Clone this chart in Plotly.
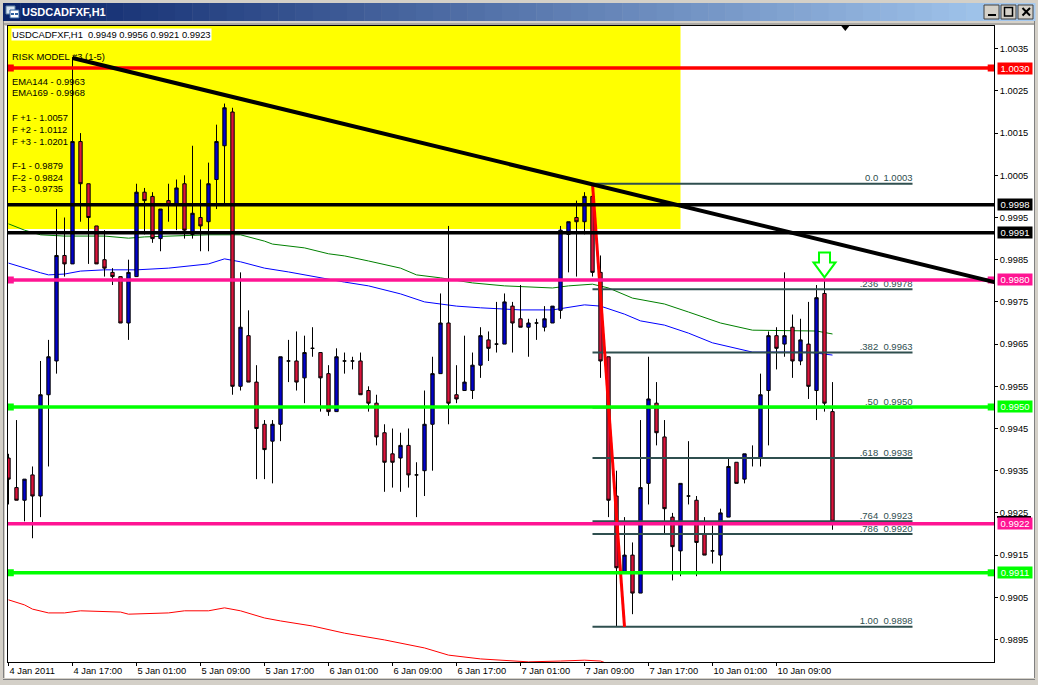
import plotly.graph_objects as go

W, H = 1038, 685

# ---------- data: prices in 1/10000 ----------
opens = [9938,9931,9928,9934,9929,9953,9961,9986,9984,10013,10003,9993,9985,9982,9981,9970,9981,10001,10000,9990,9999,9998,10003,9991,9995,9994,10004,10012,10020,9955,9967,9956,9946,9942,9946,9961,9961,9957,9964,9963,9958,9949,9961,9961,9961,9954,9951,9944,9939,9938,9941,9934,9935,9946,9958,9970,9953,9954,9954,9960,9966,9965,9965,9974,9971,9969,9970,9969,9970,9973,9991,9995,9994,10000,9982,9962,9929,9911,9915,9906,9932,9951,9943,9924,9916,9929,9928,9920,9916,9915,9924,9937,9933,9938,9938,9954,9967,9965,9969,9961,9965,9954,9977,9949]
highs = [9939,9947,9933,9936,9961,9966,9997,9995,10033,10015,10003,9993,9992,9983,9981,9985,10003,10002,10001,9997,10003,10004,10005,10012,10004,10008,10017,10022,10021,9982,9973,9960,9947,9947,9962,9966,9968,9967,9969,9963,9960,9964,9963,9962,9963,9955,9953,9946,9945,9944,9945,9937,9954,9962,9977,9993,9960,9967,9963,9969,9968,9975,9977,9975,9979,9971,9971,9974,9974,9993,9994,9999,10001,10003,9986,9962,9935,9924,9918,9947,9962,9956,9947,9925,9932,9942,9929,9924,9922,9926,9938,9937,9939,9941,9958,9968,9969,9982,9972,9971,9975,9979,9983,9956]
lows = [9927,9928,9923,9919,9924,9936,9958,9981,9984,9994,9984,9984,9981,9979,9970,9966,9981,9991,9989,9987,9994,9992,9990,9990,9987,9987,9997,9998,9953,9954,9956,9933,9933,9932,9942,9956,9954,9951,9962,9949,9948,9949,9958,9959,9953,9949,9941,9930,9931,9930,9931,9924,9929,9935,9958,9946,9951,9954,9952,9957,9961,9963,9965,9963,9969,9962,9966,9968,9970,9971,9982,9981,9991,9981,9957,9924,9898,9911,9901,9906,9927,9941,9920,9909,9910,9927,9910,9915,9913,9911,9924,9932,9932,9936,9936,9941,9959,9962,9957,9960,9952,9947,9949,9921]
closes = [9933,9928,9933,9929,9953,9962,9986,9984,10013,10003,9995,9984,9983,9981,9970,9982,10001,9999,9990,9997,9998,10002,9992,9996,9993,10003,10013,10021,9955,9969,9956,9945,9940,9946,9962,9961,9956,9963,9964,9957,9949,9962,9961,9961,9953,9951,9943,9937,9937,9941,9934,9934,9946,9958,9970,9951,9952,9956,9960,9967,9964,9965,9975,9970,9969,9970,9970,9971,9974,9992,9994,9994,10000,9982,9961,9928,9912,9915,9906,9931,9952,9944,9926,9917,9932,9929,9918,9915,9916,9925,9936,9932,9939,9938,9953,9967,9964,9967,9961,9966,9955,9976,9951,9923]

tick_bars = [0,8,16,24,32,40,48,56,64,72,80,88,96]
tick_dates = ["4 Jan 2011","4 Jan 17:00","5 Jan 01:00","5 Jan 09:00","5 Jan 17:00","6 Jan 01:00","6 Jan 09:00",
              "6 Jan 17:00","7 Jan 01:00","7 Jan 09:00","7 Jan 17:00","10 Jan 01:00","10 Jan 09:00"]
price_ticks = [1.0035,1.0025,1.0015,1.0005,0.9995,0.9985,0.9975,0.9965,0.9955,0.9945,0.9935,0.9925,0.9915,0.9905,0.9895]

# moving averages, prices in 1/100000
ema169_bars = [0,2,4,7,12,15,17,20,25,29,32,33,37,40,42,45,49,51,54,58,62,68,70,73,75,78,82,85,89,93,99,101,103]
ema169_vals = [99935,99920,99909,99906,99906,99901,99904,99906,99909,99909,99894,99887,99878,99864,99859,99847,99830,99814,99807,99795,99788,99783,99788,99792,99783,99759,99745,99726,99700,99683,99681,99681,99674]
ema144_bars = [0,2,4,5,7,9,12,16,20,25,27,29,32,35,39,42,45,49,52,56,59,64,68,72,74,77,79,82,85,88,93,100,103]
ema144_vals = [99842,99830,99819,99814,99816,99823,99826,99826,99830,99840,99852,99845,99830,99821,99807,99797,99788,99769,99750,99740,99736,99731,99731,99743,99740,99721,99705,99695,99676,99653,99631,99631,99624]
low_ma_bars = [0,2,3,5,7,9,14,15,20,22,25,27,29,32,34,38,42,47,52,55,59,62,65,69,72,74,75]
low_ma_vals = [99044,99032,99022,99013,99013,99018,99015,99010,99013,99018,99018,99025,99018,99001,98994,98982,98965,98949,98930,98913,98904,98901,98897,98899,98901,98899,98892]

level_vals = [1.00304,0.99980,0.99914,0.99802,0.99501,0.99224,0.99108]
level_cols = ["#FF0000","#000000","#000000","#FF1493","#00FF00","#FF1493","#00FF00"]
level_handles = [True,False,False,True,True,False,True]

fib_ratios = ["0.0",".236",".382",".50",".618",".764",".786","1.00"]
fib_vals = [1.0003,0.9978,0.9963,0.9950,0.9938,0.9923,0.9920,0.9898]
fib_bars = [73,113]

trend_bars = [8,123.25]
trend_vals = [1.00328,0.99797]
drop_bars = [73,77]
drop_vals = [1.0003,0.9898]
zone_bars = [-1,84]
zone_vals = [0.99923,1.0050]
arrow_bar = 102
arrow_price = 0.99808
marker_bar = 104.6

legend_lines = [("USDCADFXF,H1  0.9949 0.9956 0.9921 0.9923",34),("RISK MODEL #3 (1-5)",57),("EMA144 - 0.9963",81),("EMA169 - 0.9968",93),
                ("F +1 - 1.0057",117),("F +2 - 1.0112",129),("F +3 - 1.0201",141),("F-1 - 0.9879",165),("F-2 - 0.9824",177),("F-3 - 0.9735",189)]

FONT = "Liberation Sans"
PLOT_L, PLOT_R, PLOT_T, PLOT_B = 7.5, 994, 26, 662
XR = [(PLOT_L-8.5)/8, (PLOT_R-8.5)/8]
YR = [0.9895+(639.5-PLOT_B)/42200, 0.9895+(639.5-PLOT_T)/42200]

def px(x): return x/W
def py(y): return 1-y/H
def rect(x0,y0,x1,y1,fill,line=None,layer="below"):
    return dict(type="rect",xref="paper",yref="paper",x0=px(x0),x1=px(x1),y0=py(y0),y1=py(y1),
                fillcolor=fill,line=dict(width=1 if line else 0,color=line or fill),layer=layer)

shapes = []
# window chrome
shapes.append(rect(4,21,1034,678,"#FFFFFF"))
n = 60
c0, c1 = (10,36,106), (166,202,240)
for k in range(n):
    t = k/(n-1)
    col = "rgb(%d,%d,%d)"%tuple(round(a+(b-a)*t) for a,b in zip(c0,c1))
    shapes.append(rect(3+k*(1035-3)/n,3,3+(k+1)*(1035-3)/n+0.5,21,col))
shapes.append(rect(0,21,5,685,"#D4D0C8"))
shapes.append(rect(3,21,4,680,"#808080"))
shapes.append(rect(4,21,7,26,"#D4D0C8"))
shapes.append(rect(4,21,1034,25,"#D4D0C8"))
shapes.append(rect(3,23.5,1035,24.5,"#808080"))
shapes.append(rect(1034,21,1038,685,"#D4D0C8"))
shapes.append(rect(1034,21,1035,680,"#808080"))
shapes.append(rect(0,678,1038,685,"#D4D0C8"))
shapes.append(rect(3,679,1035,680,"#808080"))
# icon
shapes.append(rect(6,6,15,14,"#D8E4F0","#6080A0"))
shapes.append(rect(10,10,19,18,"#FFFFFF","#3060A0"))
shapes.append(rect(11,13,14,15,"#3060A0"))
shapes.append(rect(15,13,18,15,"#3060A0"))
# buttons
for x0,x1 in [(984,999),(1001,1016),(1018,1033)]:
    shapes.append(rect(x0,5,x1,19,"#D4D0C8","#404040"))
shapes.append(rect(988,14,996,16,"#000000"))
shapes.append(dict(type="rect",xref="paper",yref="paper",x0=px(1004.5),x1=px(1012.5),y0=py(7.5),y1=py(16),
                   line=dict(color="#000000",width=1.5),fillcolor="rgba(0,0,0,0)",layer="below"))
shapes.append(dict(type="path",xref="paper",yref="paper",layer="below",line=dict(color="#000000",width=2),
                   path="M %f %f L %f %f M %f %f L %f %f"%(px(1022.5),py(8),px(1030),py(15.5),px(1030),py(8),px(1022.5),py(15.5))))
# yellow zone
shapes.append(dict(type="rect",xref="x",yref="y",x0=zone_bars[0],x1=zone_bars[1],y0=zone_vals[0],y1=zone_vals[1],
                   fillcolor="#FFFF00",line=dict(width=0),layer="below"))
# hollow arrow, sized in pixels, anchored on data
shapes.append(dict(type="path",xref="x3",yref="y3",xsizemode="pixel",ysizemode="pixel",xanchor=arrow_bar,yanchor=arrow_price,
                   path="M 0 0 L -11 15 L -5.5 15 L -5.5 25 L 5.5 25 L 5.5 15 L 11 15 Z",
                   line=dict(color="#00FF00",width=2),fillcolor="#FFFFFF",layer="above"))
# chart-shift marker
shapes.append(dict(type="path",xref="x3",yref="y3",xsizemode="pixel",ysizemode="pixel",xanchor=marker_bar,yanchor=YR[1],
                   path="M -4 0 L 4 0 L 0 -5 Z",line=dict(color="#000000",width=0),fillcolor="#000000",layer="above"))
# tag sliver of the bid line
shapes.append(rect(997,516,1031,518,"#000000",layer="above"))

fig = go.Figure()

# base axes: moving averages
for bars,vals,col in [(ema169_bars,ema169_vals,"#008000"),(ema144_bars,ema144_vals,"#0000FF"),(low_ma_bars,low_ma_vals,"#FF0000")]:
    fig.add_trace(go.Scatter(x=bars,y=[v/100000 for v in vals],mode="lines",line=dict(color=col,width=1),
                             xaxis="x",yaxis="y",showlegend=False,hoverinfo="skip"))

# overlay 2: candles
fig.add_trace(go.Candlestick(x=list(range(len(opens))),
    open=[v/10000 for v in opens],high=[v/10000 for v in highs],low=[v/10000 for v in lows],close=[v/10000 for v in closes],
    increasing=dict(fillcolor="#0000CD",line=dict(color="#000000",width=1)),
    decreasing=dict(fillcolor="#DC143C",line=dict(color="#000000",width=1)),
    xaxis="x2",yaxis="y2",showlegend=False))

# overlay 3: objects
fig.add_trace(go.Scatter(x=[fib_bars[1]]*len(fib_vals),y=fib_vals,mode="text",
    text=[f"{r}\u00a0\u00a0{v:.4f}" for r,v in zip(fib_ratios,fib_vals)],textposition="top left",
    textfont=dict(family=FONT,size=9.5,color="#2F4F4F"),xaxis="x3",yaxis="y3",showlegend=False,hoverinfo="skip"))
for v in fib_vals:
    fig.add_trace(go.Scatter(x=fib_bars,y=[v,v],mode="lines",line=dict(color="#2F4F4F",width=2),
                             xaxis="x3",yaxis="y3",showlegend=False,hoverinfo="skip"))
fig.add_trace(go.Scatter(x=drop_bars,y=drop_vals,mode="lines",line=dict(color="#FF0000",width=3),
                         xaxis="x3",yaxis="y3",showlegend=False,hoverinfo="skip"))
for v,c,h in zip(level_vals,level_cols,level_handles):
    fig.add_trace(go.Scatter(x=XR,y=[v,v],mode="lines",line=dict(color=c,width=3.5),
                             xaxis="x3",yaxis="y3",showlegend=False,hoverinfo="skip"))
    if h:
        fig.add_trace(go.Scatter(x=[XR[0]+0.35,XR[1]-0.35],y=[v,v],mode="markers",marker=dict(symbol="square",size=7,color=c),
                                 xaxis="x3",yaxis="y3",showlegend=False,hoverinfo="skip"))
fig.add_trace(go.Scatter(x=trend_bars,y=trend_vals,mode="lines",line=dict(color="#000000",width=4),
                         xaxis="x3",yaxis="y3",showlegend=False,hoverinfo="skip"))

annotations = [dict(text="<b>USDCADFXF,H1</b>",xref="paper",yref="paper",x=px(20),y=py(12),xanchor="left",yanchor="middle",
                    showarrow=False,font=dict(family=FONT,size=11,color="#FFFFFF"))]
for i,(txt,yc) in enumerate(legend_lines):
    annotations.append(dict(text=txt,xref="paper",yref="paper",x=px(11),y=py(yc),xanchor="left",yanchor="middle",showarrow=False,
                            font=dict(family=FONT,size=9.4,color="#000000"),borderpad=0,bgcolor="#FFFFFF" if i==0 else None))
for v,c in zip(level_vals,level_cols):
    annotations.append(dict(text=f"{v:.4f}",xref="paper",yref="y3",x=px(997),y=v,xanchor="left",yanchor="middle",showarrow=False,
                            font=dict(family=FONT,size=9.5,color="#FFFFFF"),bgcolor=c,width=34,height=11,borderpad=0,align="center"))

common_x = dict(range=XR,domain=[px(PLOT_L),px(PLOT_R)])
common_y = dict(range=YR,domain=[py(PLOT_B),py(PLOT_T)])
fig.update_layout(
    width=W,height=H,autosize=False,margin=dict(l=0,r=0,t=0,b=0,pad=0,autoexpand=False),
    paper_bgcolor="#D4D0C8",plot_bgcolor="#FFFFFF",showlegend=False,boxgap=0.4,
    font=dict(family=FONT,size=9.3,color="#000000"),
    xaxis=dict(**common_x,tickmode="array",tickvals=tick_bars,ticktext=tick_dates,ticks="outside",ticklen=3,tickcolor="#000000",tickangle=0,
               ticklabelposition="outside right",showgrid=False,zeroline=False,showline=True,linecolor="#000000",linewidth=1,mirror=True,
               tickfont=dict(family=FONT,size=9.3,color="#000000"),anchor="y",automargin=False),
    yaxis=dict(**common_y,side="right",tickmode="array",tickvals=price_ticks,ticktext=[f"{t:.4f}" for t in price_ticks],ticks="outside",ticklen=3,
               tickcolor="#000000",showgrid=False,zeroline=False,showline=True,linecolor="#000000",linewidth=1,mirror=True,
               tickfont=dict(family=FONT,size=9.3,color="#000000"),anchor="x",automargin=False),
    xaxis2=dict(range=XR,overlaying="x",visible=False,rangeslider=dict(visible=False),anchor="y2"),
    yaxis2=dict(range=YR,overlaying="y",visible=False,anchor="x2"),
    xaxis3=dict(range=XR,overlaying="x",visible=False,anchor="y3"),
    yaxis3=dict(range=YR,overlaying="y",visible=False,anchor="x3"),
    shapes=shapes,annotations=annotations,
)

fig.write_html("out.html",config=dict(displayModeBar=False),
               post_script="document.body.style.margin='0';document.documentElement.style.overflow='hidden';")
